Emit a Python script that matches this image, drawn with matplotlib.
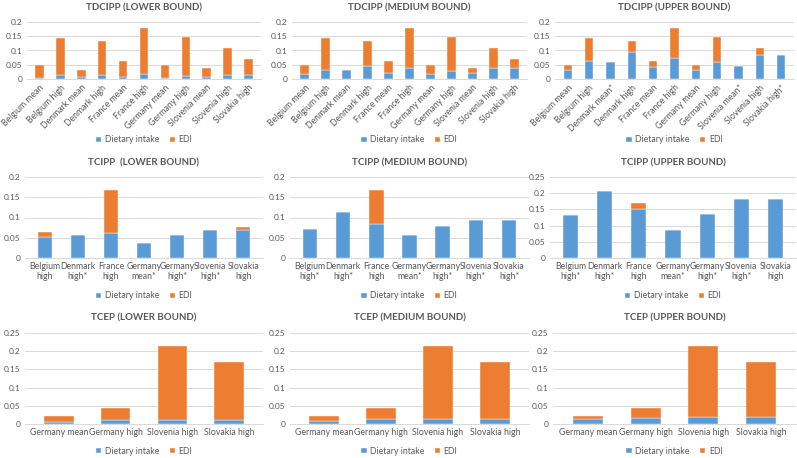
import matplotlib.pyplot as plt
import numpy as np
from matplotlib.ticker import FuncFormatter, MultipleLocator

BLUE = "#5B9BD5"
ORANGE = "#ED7D31"
GREY = "#595959"

plt.rcParams["font.family"] = ["Lato", "DejaVu Sans"]

# TDCIPP
tdcipp_cats = ["Belgium mean", "Belgium high", "Denmark mean", "Denmark high",
               "France mean", "France high", "Germany mean", "Germany high",
               "Slovenia mean", "Slovenia high", "Slovakia high"]
tdcipp_cats_upper = ["Belgium mean", "Belgium high", "Denmark mean*", "Denmark high",
                     "France mean", "France high", "Germany mean", "Germany high",
                     "Slovenia mean*", "Slovenia high", "Slovakia high*"]
tdcipp_lower_diet = [0.005, 0.013, 0.007, 0.013, 0.008, 0.019, 0.005, 0.009, 0.006, 0.013, 0.013]
tdcipp_lower_edi = [0.043, 0.132, 0.026, 0.119, 0.055, 0.161, 0.043, 0.137, 0.034, 0.097, 0.057]
tdcipp_medium_diet = [0.017, 0.031, 0.030, 0.047, 0.022, 0.038, 0.016, 0.028, 0.021, 0.038, 0.038]
tdcipp_medium_edi = [0.031, 0.114, 0.003, 0.085, 0.041, 0.142, 0.032, 0.118, 0.019, 0.072, 0.032]
tdcipp_upper_diet = [0.033, 0.063, 0.059, 0.095, 0.042, 0.073, 0.033, 0.061, 0.045, 0.085, 0.083]
tdcipp_upper_edi = [0.015, 0.082, 0.0, 0.037, 0.021, 0.107, 0.015, 0.085, 0.0, 0.025, 0.0]

# TCIPP
tcipp_cats = ["Belgium\nhigh", "Denmark\nhigh*", "France\nhigh", "Germany\nmean*",
              "Germany\nhigh*", "Slovenia\nhigh*", "Slovakia\nhigh"]
tcipp_cats_medium = ["Belgium\nhigh*", "Denmark\nhigh*", "France\nhigh", "Germany\nmean*",
                     "Germany\nhigh*", "Slovenia\nhigh*", "Slovakia\nhigh*"]
tcipp_cats_upper = ["Belgium\nhigh*", "Denmark\nhigh*", "France\nhigh", "Germany\nmean*",
                    "Germany\nhigh*", "Slovenia\nhigh*", "Slovakia\nhigh"]
tcipp_lower_diet = [0.052, 0.057, 0.061, 0.037, 0.058, 0.069, 0.069]
tcipp_lower_edi = [0.011, 0.0, 0.107, 0.0, 0.0, 0.0, 0.008]
tcipp_medium_diet = [0.072, 0.113, 0.083, 0.056, 0.079, 0.094, 0.094]
tcipp_medium_edi = [0.0, 0.0, 0.086, 0.0, 0.0, 0.0, 0.0]
tcipp_upper_diet = [0.132, 0.207, 0.151, 0.085, 0.136, 0.181, 0.181]
tcipp_upper_edi = [0.0, 0.0, 0.018, 0.0, 0.0, 0.0, 0.0]

# TCEP
tcep_cats = ["Germany mean", "Germany high", "Slovenia high", "Slovakia high"]
tcep_lower_diet = [0.006, 0.011, 0.012, 0.012]
tcep_lower_edi = [0.016, 0.032, 0.203, 0.158]
tcep_medium_diet = [0.009, 0.013, 0.015, 0.015]
tcep_medium_edi = [0.013, 0.030, 0.200, 0.155]
tcep_upper_diet = [0.013, 0.017, 0.018, 0.018]
tcep_upper_edi = [0.009, 0.026, 0.197, 0.152]

panels = [
    ("TDCIPP (LOWER BOUND)", tdcipp_cats, tdcipp_lower_diet, tdcipp_lower_edi, 0.2),
    ("TDCIPP (MEDIUM BOUND)", tdcipp_cats, tdcipp_medium_diet, tdcipp_medium_edi, 0.2),
    ("TDCIPP (UPPER BOUND)", tdcipp_cats_upper, tdcipp_upper_diet, tdcipp_upper_edi, 0.2),
    ("TCIPP  (LOWER BOUND)", tcipp_cats, tcipp_lower_diet, tcipp_lower_edi, 0.2),
    ("TCIPP (MEDIUM BOUND)", tcipp_cats_medium, tcipp_medium_diet, tcipp_medium_edi, 0.2),
    ("TCIPP (UPPER BOUND)", tcipp_cats_upper, tcipp_upper_diet, tcipp_upper_edi, 0.25),
    ("TCEP (LOWER BOUND)", tcep_cats, tcep_lower_diet, tcep_lower_edi, 0.25),
    ("TCEP (MEDIUM BOUND)", tcep_cats, tcep_medium_diet, tcep_medium_edi, 0.25),
    ("TCEP (UPPER BOUND)", tcep_cats, tcep_upper_diet, tcep_upper_edi, 0.25),
]

W, H = 797, 458
# pixel layout per row: (axes top, axes bottom, title y, legend y, bar width)
rows = [
    (22, 79, 8, 140, 0.4),
    (177, 258, 163, 296, 0.44),
    (333, 424, 318, 451, 0.52),
]
col_x = [(27, 261), (292, 527), (555, 794)]

fig = plt.figure(figsize=(W / 100, H / 100), dpi=100)
fmt = FuncFormatter(lambda v, p: "%g" % round(v, 3))

for i, (title, cats, diet, edi, ymax) in enumerate(panels):
    r, c = divmod(i, 3)
    top, bot, ty, ly, bw = rows[r]
    x0, x1 = col_x[c]
    if r > 0:
        x0 -= 2
        x1 += 2
    if i == 5:
        x0 = 550
    ax = fig.add_axes([x0 / W, 1 - bot / H, (x1 - x0) / W, (bot - top) / H])
    x = np.arange(len(cats))
    ax.bar(x, diet, bw, color=BLUE, edgecolor="white", linewidth=0.3, label="Dietary intake", zorder=3)
    ax.bar(x, edi, bw, bottom=diet, color=ORANGE, edgecolor="white", linewidth=0.3, label="EDI", zorder=3)
    ax.set_ylim(0, ymax)
    ax.set_xlim(-0.6, len(cats) - 0.4)
    ax.yaxis.set_major_locator(MultipleLocator(0.05))
    ax.yaxis.set_major_formatter(fmt)
    ax.grid(axis="y", color="#D9D9D9", linewidth=0.7, zorder=0)
    for s in ["top", "right", "left"]:
        ax.spines[s].set_visible(False)
    ax.spines["bottom"].set_color("#D9D9D9")
    ax.spines["bottom"].set_linewidth(0.7)
    ax.tick_params(length=0, labelsize=6, colors=GREY, pad=3)
    ax.set_xticks(x)
    if r == 0:
        ax.set_xticklabels(cats, rotation=45, ha="right", rotation_mode="anchor", fontsize=6.3)
    else:
        ax.set_xticklabels(cats, fontsize=6.3, linespacing=1.1)
    fig.text((x0 + x1) / 2 / W, 1 - ty / H, title, ha="center", va="center",
             fontsize=7, fontweight="bold", color=GREY)
    ax.legend(loc="center", bbox_to_anchor=((x0 + x1) / 2 / W, 1 - ly / H),
              bbox_transform=fig.transFigure, ncol=2, frameon=False, fontsize=6.3,
              handlelength=0.6, handleheight=0.6, handletextpad=0.4, columnspacing=1.2,
              labelcolor=GREY)

fig.savefig("out.png", dpi=100)
